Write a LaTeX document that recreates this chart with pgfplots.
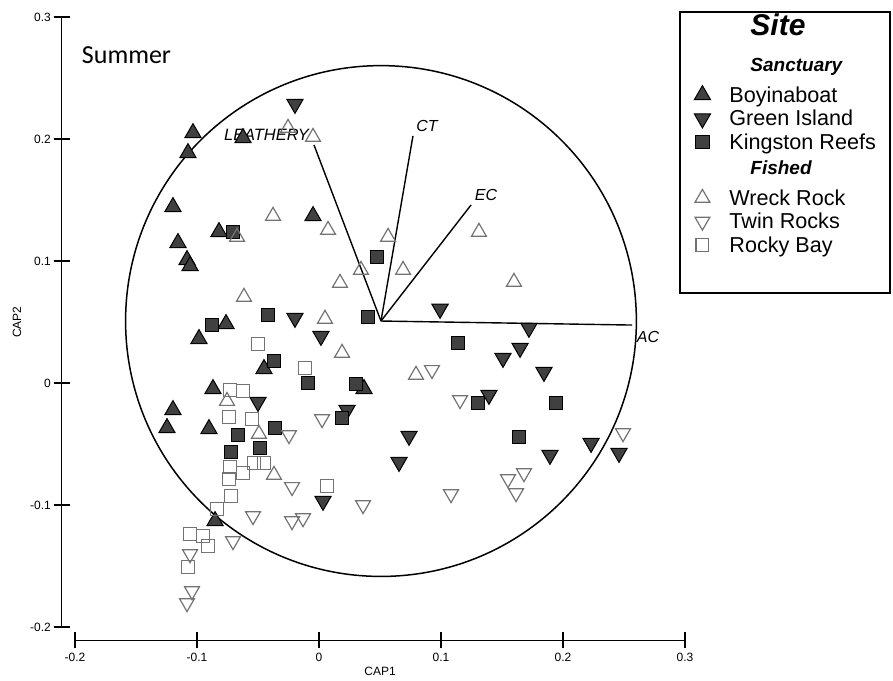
\documentclass[border=0pt]{standalone}
\usepackage{pgfplots}
\pgfplotsset{compat=1.18}
\usepackage{fontspec}
\setmainfont{Liberation Sans}
\newfontfamily\carlito{Carlito}
\definecolor{fillg}{gray}{0.25}
\definecolor{openg}{gray}{0.45}
\newcommand{\lstrut}{\rule[-3.2pt]{0pt}{11.75pt}}
\newcommand{\hstrut}{\rule[-6.95pt]{0pt}{16.25pt}}
\pgfplotsset{
  myleg/.style={legend image code/.code={\path[draw=none,fill=none] (0pt,0pt) -- (24.5pt,0pt); \draw[##1] plot coordinates {(11pt,3.7pt)};}},
  boy/.style={only marks, color=black, mark=triangle*, mark size=4.7pt, mark options={fill=fillg, draw=black, line width=0.5pt}, myleg},
  grn/.style={only marks, color=black, mark=triangle*, mark size=4.7pt, mark options={rotate=180, fill=fillg, draw=black, line width=0.5pt}, myleg},
  kng/.style={only marks, color=black, mark=square*, mark size=3.3pt, mark options={fill=fillg, draw=black, line width=0.5pt}, myleg},
  wrk/.style={only marks, color=openg, mark=triangle, mark size=4.3pt, mark options={draw=openg, line width=0.6pt}, myleg},
  twn/.style={only marks, color=openg, mark=triangle, mark size=4.3pt, mark options={rotate=180, draw=openg, line width=0.6pt}, myleg},
  rck/.style={only marks, color=openg, mark=square, mark size=3.2pt, mark options={draw=openg, line width=0.6pt}, myleg},
}
\begin{document}
\begin{tikzpicture}
\begin{axis}[
  scale only axis, width=311.71pt, height=311.71pt,
  xmin=-0.211, xmax=0.3, ymin=-0.211, ymax=0.3,
  axis x line=bottom, axis y line=left,
  axis line style={draw=none},
  xtick={-0.2,-0.1,0,0.1,0.2,0.3},
  ytick={-0.2,-0.1,0,0.1,0.2,0.3},
  scaled ticks=false,
  tick align=center,
  major tick length=8pt,
  tick style={black, line width=0.6pt},
  tick label style={font=\fontsize{6}{7}\selectfont},
  yticklabel style={xshift=2.2pt},
  xticklabel style={yshift=1.2pt},
  /pgf/number format/assume math mode=true,
  clip=false,
  legend style={at={(axis description cs:0.9920,1.008)}, anchor=north west, draw=none, fill=none,
    inner sep=0pt, row sep=0pt, column sep=0pt, cells={anchor=base west},
    nodes={inner sep=0pt, text depth={}, font=\fontsize{10.8}{12}\selectfont}},
]
% correlation circle and vectors
\draw[line width=0.75pt] (axis cs:0.0508,0.0508) circle[radius=127.7pt];
\addplot[black, line width=0.7pt, forget plot] coordinates {(0.0508,0.0508) (-0.0041,0.1951)};
\addplot[black, line width=0.7pt, forget plot] coordinates {(0.0508,0.0508) (0.0770,0.2025)};
\addplot[black, line width=0.7pt, forget plot] coordinates {(0.0508,0.0508) (0.1246,0.1459)};
\addplot[black, line width=0.7pt, forget plot] coordinates {(0.0508,0.0508) (0.2566,0.0475)};
\node[font=\fontsize{8.2}{9}\selectfont\itshape] at (axis cs:-0.043,0.2033) {LEATHERY};
\node[font=\fontsize{8}{9}\selectfont\itshape] at (axis cs:0.0885,0.2107) {CT};
\node[font=\fontsize{8}{9}\selectfont\itshape] at (axis cs:0.1369,0.1541) {EC};
\node[font=\fontsize{8}{9}\selectfont\itshape] at (axis cs:0.2697,0.0377) {AC};
\node[font=\carlito\fontsize{13}{15}\selectfont] at (axis cs:-0.1578,0.2689) {Summer};
% axis lines and titles
\draw[line width=0.9pt] (axis cs:-0.211,-0.2) -- (axis cs:-0.211,0.3);
\draw[line width=0.9pt] (axis cs:-0.2,-0.211) -- (axis cs:0.3,-0.211);
\node[font=\fontsize{6}{7}\selectfont] at (axis cs:0.05,-0.2361) {CAP1};
\node[font=\fontsize{6}{7}\selectfont, rotate=90] at (axis cs:-0.2475,0.05) {CAP2};
% legend frame
\draw[line width=0.7pt] (axis description cs:0.9920,1.008) rectangle (axis description cs:1.3291,0.5570);
% legend headers and data
\addlegendimage{legend image code/.code={}}
\addlegendentry{\hspace*{10.5pt}\fontsize{15}{16}\selectfont\bfseries\itshape Site\rule[-8.7pt]{0pt}{20.2pt}}
\addlegendimage{legend image code/.code={}}
\addlegendentry{\hspace*{10.5pt}\fontsize{9.5}{10}\selectfont\bfseries\itshape Sanctuary\hstrut}
\addplot[boy] coordinates {
(-0.1033,0.2049) (-0.1074,0.1885) (-0.0623,0.2008) (-0.1197,0.1443) (-0.1156,0.1148)
(-0.1082,0.1008) (-0.1057,0.0959) (-0.0820,0.1238) (-0.0049,0.1369) (-0.0762,0.0484)
(-0.0984,0.0361) (-0.0451,0.0115) (0.0369,-0.0049) (-0.0869,-0.0049) (-0.1197,-0.0221)
(-0.1246,-0.0369) (-0.0902,-0.0377) (-0.0852,-0.1131)};
\addlegendentry{Boyinaboat\lstrut}
\addplot[grn] coordinates {
(-0.0197,0.2287) (-0.0197,0.0533) (0.0016,0.0385) (-0.0500,-0.0156) (0.0230,-0.0221)
(0.0992,0.0607) (0.1721,0.0451) (0.1648,0.0287) (0.1508,0.0205) (0.1844,0.0090)
(0.1393,-0.0098) (0.0738,-0.0434) (0.0656,-0.0648) (0.1893,-0.0590) (0.2230,-0.0492)
(0.2459,-0.0574) (0.0033,-0.0967)};
\addlegendentry{Green Island\lstrut}
\addplot[kng] coordinates {
(0.0475,0.1033) (-0.0705,0.1238) (-0.0877,0.0475) (-0.0418,0.0557) (0.0402,0.0541)
(-0.0369,0.0180) (-0.0090,0.0000) (0.0303,-0.0008) (-0.0361,-0.0369) (-0.0664,-0.0426)
(-0.0484,-0.0533) (-0.0721,-0.0566) (0.0189,-0.0287) (0.1139,0.0328) (0.1303,-0.0164)
(0.1943,-0.0164) (0.1639,-0.0443)};
\addlegendentry{Kingston Reefs\lstrut}
\addlegendimage{legend image code/.code={}}
\addlegendentry{\hspace*{10.5pt}\fontsize{9.5}{10}\selectfont\bfseries\itshape Fished\hstrut}
\addplot[wrk] coordinates {
(-0.0049,0.2016) (-0.0254,0.2090) (-0.0377,0.1369) (0.0074,0.1254) (-0.0672,0.1197)
(0.0566,0.1197) (0.0344,0.0926) (0.0172,0.0820) (-0.0615,0.0705) (0.0689,0.0926)
(0.1311,0.1238) (0.1598,0.0828) (0.0049,0.0525) (0.0189,0.0246) (-0.0754,-0.0148)
(-0.0492,-0.0418) (-0.0369,-0.0754) (0.0795,0.0066)};
\addlegendentry{Wreck Rock\lstrut}
\addplot[twn] coordinates {
(0.0926,0.0107) (0.1156,-0.0139) (0.2492,-0.0410) (0.1680,-0.0738) (0.1549,-0.0787)
(0.1615,-0.0902) (0.1082,-0.0910) (0.0025,-0.0295) (-0.0246,-0.0426) (-0.0221,-0.0852)
(-0.0541,-0.1090) (-0.0221,-0.1131) (-0.0131,-0.1107) (0.0361,-0.1000) (-0.0705,-0.1295)
(-0.1057,-0.1402) (-0.1041,-0.1705) (-0.1082,-0.1803)};
\addlegendentry{Twin Rocks\lstrut}
\addplot[rck] coordinates {
(-0.0500,0.0320) (-0.0115,0.0123) (-0.0730,-0.0057) (-0.0623,-0.0066) (-0.0738,-0.0279)
(-0.0549,-0.0295) (-0.0730,-0.0689) (-0.0623,-0.0738) (-0.0533,-0.0656) (-0.0451,-0.0656)
(-0.0738,-0.0787) (-0.0721,-0.0926) (-0.0836,-0.1033) (-0.1057,-0.1238) (-0.0951,-0.1254)
(-0.0910,-0.1336) (-0.1074,-0.1508) (0.0066,-0.0844)};
\addlegendentry{Rocky Bay\lstrut}
\coordinate (BL) at (axis cs:-0.26148,-0.24344);
\coordinate (TR) at (axis cs:0.47049,0.31393);
\end{axis}
\pgfresetboundingbox
\path[use as bounding box] (BL) rectangle (TR);
\end{tikzpicture}
\end{document}
